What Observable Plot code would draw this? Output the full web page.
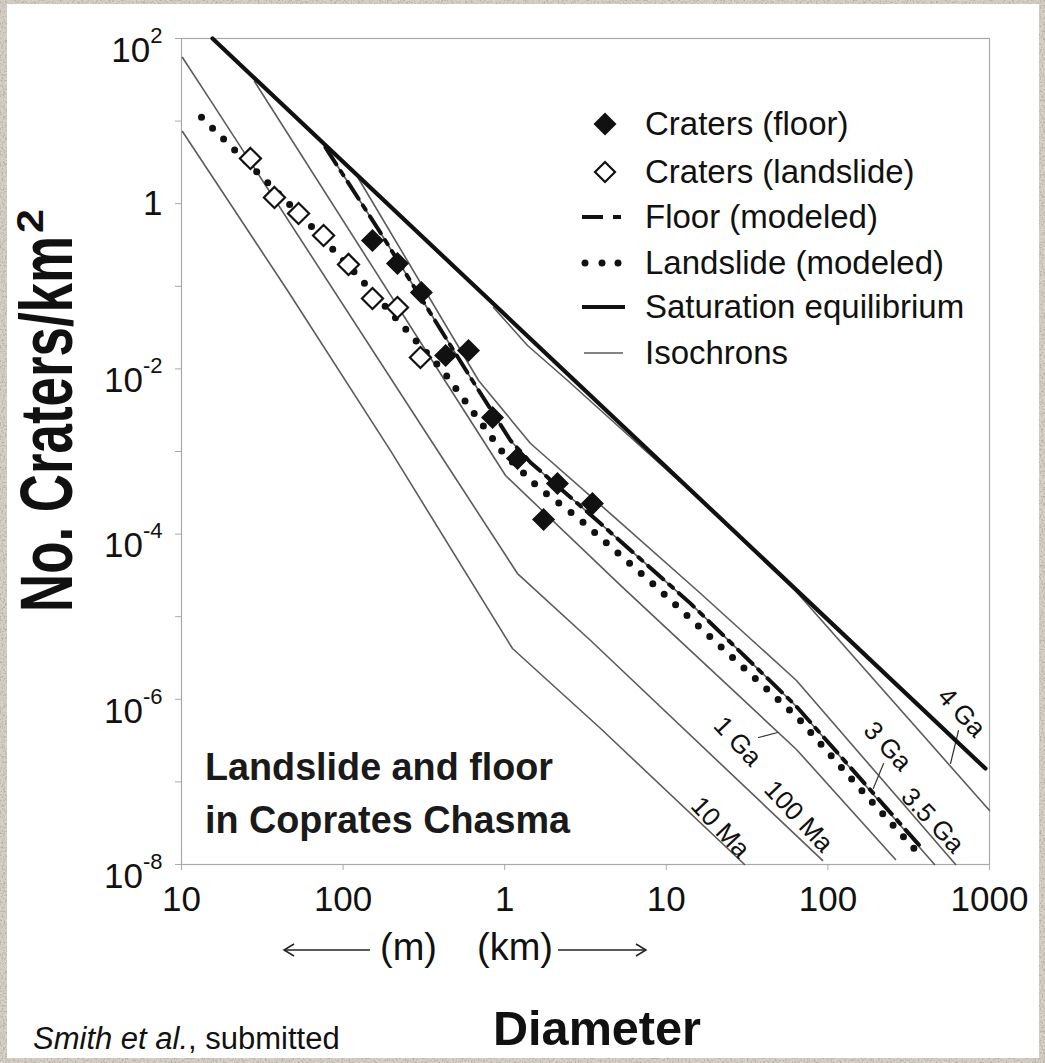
<!DOCTYPE html>
<html><head><meta charset="utf-8">
<script src="https://cdn.jsdelivr.net/npm/d3@7"></script>
<script src="https://cdn.jsdelivr.net/npm/@observablehq/plot@0.6"></script>
<style>
html,body{margin:0;padding:0;}
body{width:1045px;height:1063px;position:relative;overflow:hidden;background:#d3cdc3;font-family:"Liberation Sans",Arial,sans-serif;}
#bg{position:absolute;left:0;top:0;}
#panel{position:absolute;left:7px;top:4px;width:1032px;height:1054px;background:#fff;}
#chart{position:absolute;left:0;top:0;}
#overlay{position:absolute;left:0;top:0;pointer-events:none;}
</style></head><body>
<svg id="bg" width="1045" height="1063">
<defs><filter id="g" x="0" y="0" width="100%" height="100%"><feTurbulence type="fractalNoise" baseFrequency="0.55" numOctaves="2" seed="3" result="n"/><feColorMatrix in="n" type="matrix" values="0 0 0 0 0.45  0 0 0 0 0.42  0 0 0 0 0.38  3 0 0 0 -1.35"/></filter></defs>
<rect width="1045" height="1063" fill="#d6d0c6"/>
<rect width="1045" height="1063" fill="#000" filter="url(#g)"/>
</svg>
<div id="panel"></div>
<div id="chart"></div>
<svg id="overlay" width="1045" height="1063" font-family="Liberation Sans, Arial, sans-serif" fill="#111">
  <!-- y title -->
  <g transform="translate(72,612) rotate(-90)">
    <text x="0" y="0" font-size="74" font-weight="bold" textLength="376" lengthAdjust="spacingAndGlyphs">No. Craters/km</text>
    <text x="379" y="-29" font-size="37" font-weight="bold" textLength="24" lengthAdjust="spacingAndGlyphs">2</text>
  </g>
  <!-- legend -->
  <g>
    <polygon points="605,112.5 616.5,124 605,135.5 593.5,124" fill="#111"/>
    <polygon points="605,162 615,172 605,182 595,172" fill="#fff" stroke="#111" stroke-width="2.2"/>
    <line x1="582" y1="217" x2="603" y2="217" stroke="#111" stroke-width="4"/>
    <line x1="613" y1="217" x2="621" y2="217" stroke="#111" stroke-width="4"/>
    <circle cx="585" cy="263" r="3.5" fill="#111"/><circle cx="602" cy="263" r="3.5" fill="#111"/><circle cx="618" cy="263" r="3.5" fill="#111"/>
    <line x1="582" y1="307" x2="625" y2="307" stroke="#111" stroke-width="4"/>
    <line x1="584" y1="353" x2="623" y2="353" stroke="#5b5b5b" stroke-width="1.6"/>
    <g font-size="33">
      <text x="645" y="135">Craters (floor)</text>
      <text x="645" y="183">Craters (landslide)</text>
      <text x="645" y="228">Floor (modeled)</text>
      <text x="645" y="274">Landslide (modeled)</text>
      <text x="645" y="318">Saturation equilibrium</text>
      <text x="645" y="364">Isochrons</text>
    </g>
  </g>
  <!-- annotation -->
  <g font-size="38" font-weight="bold" fill="#1a1a1a">
    <text x="205" y="780" textLength="348" lengthAdjust="spacingAndGlyphs">Landslide and floor</text>
    <text x="205" y="833" textLength="365" lengthAdjust="spacingAndGlyphs">in Coprates Chasma</text>
  </g>
  <!-- units with arrows -->
  <g stroke="#222" stroke-width="1.5" fill="none">
    <line x1="284" y1="950" x2="370" y2="950"/><polyline points="294,944 284,950 294,956"/>
    <line x1="558" y1="950" x2="646" y2="950"/><polyline points="636,944 646,950 636,956"/>
  </g>
  <text x="380" y="960" font-size="38">(m)</text>
  <text x="477" y="960" font-size="38">(km)</text>
  <text x="493" y="1045" font-size="49" font-weight="bold" textLength="208" lengthAdjust="spacingAndGlyphs">Diameter</text>
  <text x="33" y="1049" font-size="31"><tspan font-style="italic">Smith et al.</tspan>, submitted</text>
</svg>
<script>
// ---- data (diameter in km, cumulative craters per km^2) ----
const xTickVals = [0.01, 0.1, 1, 10, 100, 1000];
const xTickLabels = ["10", "100", "1", "10", "100", "1000"];
const yTickVals = [1e2, 1e1, 1, 1e-1, 1e-2, 1e-3, 1e-4, 1e-5, 1e-6, 1e-7, 1e-8];
const yTickLabels = ["10^2", "", "1", "", "10^-2", "", "10^-4", "", "10^-6", "", "10^-8"];

const floorD = [0.152, 0.217, 0.305, 0.431, 0.597, 0.841, 1.20, 1.74, 2.12, 3.49];
const floorN = [0.359, 0.189, 0.0841, 0.01452, 0.0167, 2.58e-3, 8.22e-4, 1.50e-4, 4.10e-4, 2.34e-4];

const slideD = [0.0267, 0.0376, 0.0530, 0.0757, 0.108, 0.152, 0.217, 0.301];
const slideN = [3.53, 1.19, 0.761, 0.412, 0.184, 0.0712, 0.0554, 0.01375];

const floorModelD = [0.0778, 0.170, 0.348, 0.614, 1.086, 1.445, 3.92, 14.1, 63.9, 374];
const floorModelN = [4.79, 0.448, 0.0469, 7.87e-3, 1.36e-3, 7.36e-4, 1.34e-4, 1.45e-5, 8.18e-7, 1.65e-8];

const slideModelD = [0.0133, 0.0317, 0.0628, 0.1245, 0.251, 0.418, 0.641, 0.984, 1.62, 2.82, 8.09, 64.9, 152, 364];
const slideModelN = [11.1, 2.08, 0.545, 0.1315, 0.0284, 9.3e-3, 2.97e-3, 9.46e-4, 3.66e-4, 1.59e-4, 2.59e-5, 6.03e-7, 9.04e-8, 1.36e-8];

const satD = [0.01556, 944];
const satN = [100, 1.45e-7];

const iso10MaD = [0.01014, 0.0453, 0.196, 1.117, 3.92, 30.5];
const iso10MaN = [7.48, 0.0889, 1.03e-3, 4.12e-6, 4.43e-7, 1e-8];
const iso100MaD = [0.01014, 0.01511, 0.384, 1.20, 3.40, 92.6];
const iso100MaN = [58.9, 17.8, 1.03e-3, 3.33e-5, 5.15e-6, 1.12e-8];
const iso1GaD = [0.0283, 0.511, 1.012, 5.21, 63.9, 262];
const iso1GaN = [30.2, 4.14e-3, 5.12e-4, 2.39e-5, 2.47e-7, 1.15e-8];
const iso3GaD = [0.0778, 0.170, 0.348, 0.614, 1.086, 1.445, 3.92, 14.1, 63.9, 457];
const iso3GaN = [4.79, 0.448, 0.0469, 7.87e-3, 1.36e-3, 7.36e-4, 1.34e-4, 1.45e-5, 8.18e-7, 1e-8];
const iso35GaD = [0.1245, 0.689, 1.445, 5.21, 16.3, 63.9, 617];
const iso35GaN = [2.02, 7.24e-3, 1.25e-3, 1.38e-4, 1.91e-5, 1.69e-6, 1e-8];
const iso4GaD = [0.853, 1.384, 2.45, 16.3, 61.2, 1000];
const iso4GaN = [0.0554, 0.0192, 7.24e-3, 2.55e-4, 2.19e-5, 4.51e-8];

const isoLabels = ["10 Ma", "100 Ma", "1 Ga", "3 Ga", "3.5 Ga", "4 Ga"];
const isoLabelD = [21.6, 65.8, 27.6, 234, 444, 671];
const isoLabelN = [2.8e-8, 3.81e-8, 3.08e-7, 2.69e-7, 3.41e-8, 6.92e-7];

const leaderAge = ["1 Ga", "1 Ga", "3 Ga", "3 Ga", "4 Ga", "4 Ga"];
const leaderD = [37.2, 48.8, 191, 221, 574, 643];
const leaderN = [3.45e-7, 3.96e-7, 8.32e-8, 1.67e-7, 1.67e-7, 4.19e-7];

// ---- build tables ----
const rows = (D, N, extra = {}) => D.map((d, i) => ({D: d, N: N[i], ...extra}));
const isoRows = [
  ...rows(iso10MaD, iso10MaN, {age: "10 Ma"}),
  ...rows(iso100MaD, iso100MaN, {age: "100 Ma"}),
  ...rows(iso1GaD, iso1GaN, {age: "1 Ga"}),
  ...rows(iso3GaD, iso3GaN, {age: "3 Ga"}),
  ...rows(iso35GaD, iso35GaN, {age: "3.5 Ga"}),
  ...rows(iso4GaD, iso4GaN, {age: "4 Ga"})
];
const labelRows = isoLabels.map((t, i) => ({label: t, D: isoLabelD[i], N: isoLabelN[i]}));
const leaderRows = leaderAge.map((a, i) => ({age: a, D: leaderD[i], N: leaderN[i]}));

const chart = Plot.plot({
  width: 1045, height: 930,
  marginTop: 38, marginBottom: 66, marginLeft: 181, marginRight: 56,
  style: {background: "transparent", fontFamily: "Liberation Sans, Arial, sans-serif", color: "#111"},
  x: {type: "log", domain: [0.01, 1000]},
  y: {type: "log", domain: [1e-8, 1e2]},
  marks: [
    Plot.frame({stroke: "#a9a9a9", strokeWidth: 1.2}),
    Plot.axisX({ticks: xTickVals, tickFormat: d => xTickLabels[xTickVals.indexOf(d)], tickSize: 6, tickPadding: 16,
      fontSize: 35, stroke: "#a9a9a9", fill: "#111", label: null}),
    Plot.axisY({ticks: yTickVals, tickFormat: d => yTickLabels[yTickVals.indexOf(d)], tickSize: 6, tickPadding: 13,
      fontSize: 35, stroke: "#a9a9a9", fill: "#111", label: null}),
    Plot.line(isoRows, {x: "D", y: "N", z: "age", stroke: "#5b5b5b", strokeWidth: 1.6}),
    Plot.line(leaderRows, {x: "D", y: "N", z: "age", stroke: "#333", strokeWidth: 1.2}),
    Plot.text(labelRows, {x: "D", y: "N", text: "label", rotate: 47, fontSize: 26, fill: "#111"}),
    Plot.line(rows(satD, satN), {x: "D", y: "N", stroke: "#111", strokeWidth: 4.2}),
    Plot.line(rows(floorModelD, floorModelN), {x: "D", y: "N", stroke: "#111", strokeWidth: 4, strokeDasharray: "20 8 5 8"}),
    Plot.line(rows(slideModelD, slideModelN), {x: "D", y: "N", stroke: "#111", strokeWidth: 7, strokeDasharray: "0 15.5", strokeLinecap: "round"}),
    Plot.dot(rows(slideD, slideN), {x: "D", y: "N", symbol: "diamond2", r: 9.5, fill: "#fff", stroke: "#111", strokeWidth: 2.2}),
    Plot.dot(rows(floorD, floorN), {x: "D", y: "N", symbol: "diamond2", r: 10.4, fill: "#111", stroke: "none"})
  ]
});
document.getElementById("chart").appendChild(chart);

// superscript exponents in y tick labels
const SVGNS = "http://www.w3.org/2000/svg";
let yLabels = chart.querySelectorAll('g[aria-label="y-axis tick label"] text');
yLabels.forEach(t => {
  const s = t.textContent;
  if (s.startsWith("10^")) {
    const e = s.slice(3);
    t.textContent = "10";
    const ts = document.createElementNS(SVGNS, "tspan");
    ts.setAttribute("dy", "-19");
    ts.setAttribute("font-size", "22");
    ts.textContent = e;
    t.appendChild(ts);
    t.setAttribute("dy", "12");
  }
});
</script>
</body></html>
